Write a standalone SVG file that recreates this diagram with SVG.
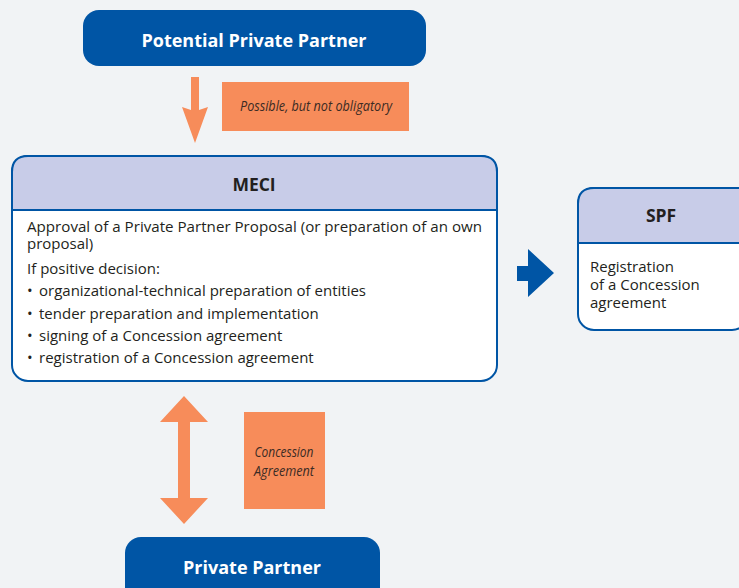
<svg xmlns="http://www.w3.org/2000/svg" width="739" height="588" viewBox="0 0 739 588">
<style>
.bg{fill:#f1f3f5}
.blue{fill:#0055a5}
.frame{fill:#ffffff;stroke:#0055a5;stroke-width:2}
.head{fill:#c8cce8;stroke:#0055a5;stroke-width:2}
.title{font-family:"Open Sans","Liberation Sans",sans-serif;font-weight:bold;fill:#ffffff;font-size:18px;text-anchor:middle}
.htxt{font-family:"Open Sans","Liberation Sans",sans-serif;font-weight:bold;fill:#231f20;font-size:17.5px;text-anchor:middle}
.body{font-family:"Open Sans","Liberation Sans",sans-serif;fill:#231f20;font-size:15px}
.lbl{fill:#f78c5a}
.ltxt{font-family:"Open Sans","Liberation Sans",sans-serif;font-style:italic;fill:#3b2b24;font-size:14px;text-anchor:middle}
.oarrow{fill:#f78c5a}
</style>
<rect class="bg" x="0" y="0" width="739" height="588"/>
<g id="potential-private-partner">
<rect class="blue" x="83" y="10" width="343" height="56" rx="16"/>
<text class="title" x="254" y="47">Potential Private Partner</text>
</g>
<g id="meci">
<rect class="frame" x="12" y="156" width="485" height="225" rx="16"/>
<path class="head" d="M12,210 L12,172 Q12,156 28,156 L481,156 Q497,156 497,172 L497,210 Z"/>
<text class="htxt" x="254" y="191">MECI</text>
<text class="body"><tspan x="27" y="232" textLength="455" lengthAdjust="spacingAndGlyphs">Approval of a Private Partner Proposal (or preparation of an own</tspan><tspan x="27" y="249">proposal)</tspan></text>
<text class="body" x="27" y="274">If positive decision:</text>
<text class="body" x="27" y="296">•</text><text class="body" x="39" y="296">organizational-technical preparation of entities</text>
<text class="body" x="27" y="319">•</text><text class="body" x="39" y="319">tender preparation and implementation</text>
<text class="body" x="27" y="341">•</text><text class="body" x="39" y="341">signing of a Concession agreement</text>
<text class="body" x="27" y="363">•</text><text class="body" x="39" y="363">registration of a Concession agreement</text>
</g>
<g id="spf">
<rect class="frame" x="578" y="188" width="170" height="142" rx="16"/>
<path class="head" d="M578,243 L578,204 Q578,188 594,188 L750,188 L750,243 Z"/>
<text class="htxt" x="661" y="222">SPF</text>
<text class="body" x="590" y="272">Registration</text>
<text class="body" x="590" y="290">of  a Concession</text>
<text class="body" x="590" y="308">agreement</text>
</g>
<g id="private-partner">
<rect class="blue" x="125" y="537" width="255" height="70" rx="16"/>
<text class="title" x="252" y="574">Private Partner</text>
</g>
<g id="label-possible">
<rect class="lbl" x="222" y="82" width="187" height="49"/>
<text class="ltxt" x="316" y="111" textLength="152" lengthAdjust="spacingAndGlyphs">Possible, but not obligatory</text>
</g>
<g id="label-concession">
<rect class="lbl" x="244" y="412" width="81" height="97"/>
<text class="ltxt" x="284" y="457" textLength="59" lengthAdjust="spacingAndGlyphs">Concession</text>
<text class="ltxt" x="284" y="476" textLength="60" lengthAdjust="spacingAndGlyphs">Agreement</text>
</g>
<g id="connectors">
<path class="oarrow" d="M191,77 L199,77 L199,110 L208,107 L195,143 L182,107 L191,110 Z"/>
<path class="blue" d="M517,266 L528,266 L528,249 L554,273 L528,297 L528,281 L517,281 Z"/>
<path class="oarrow" d="M184,396 L208,422 L190,422 L190,498 L208,498 L184,524 L160,498 L178,498 L178,422 L160,422 Z"/>
</g>
</svg>
